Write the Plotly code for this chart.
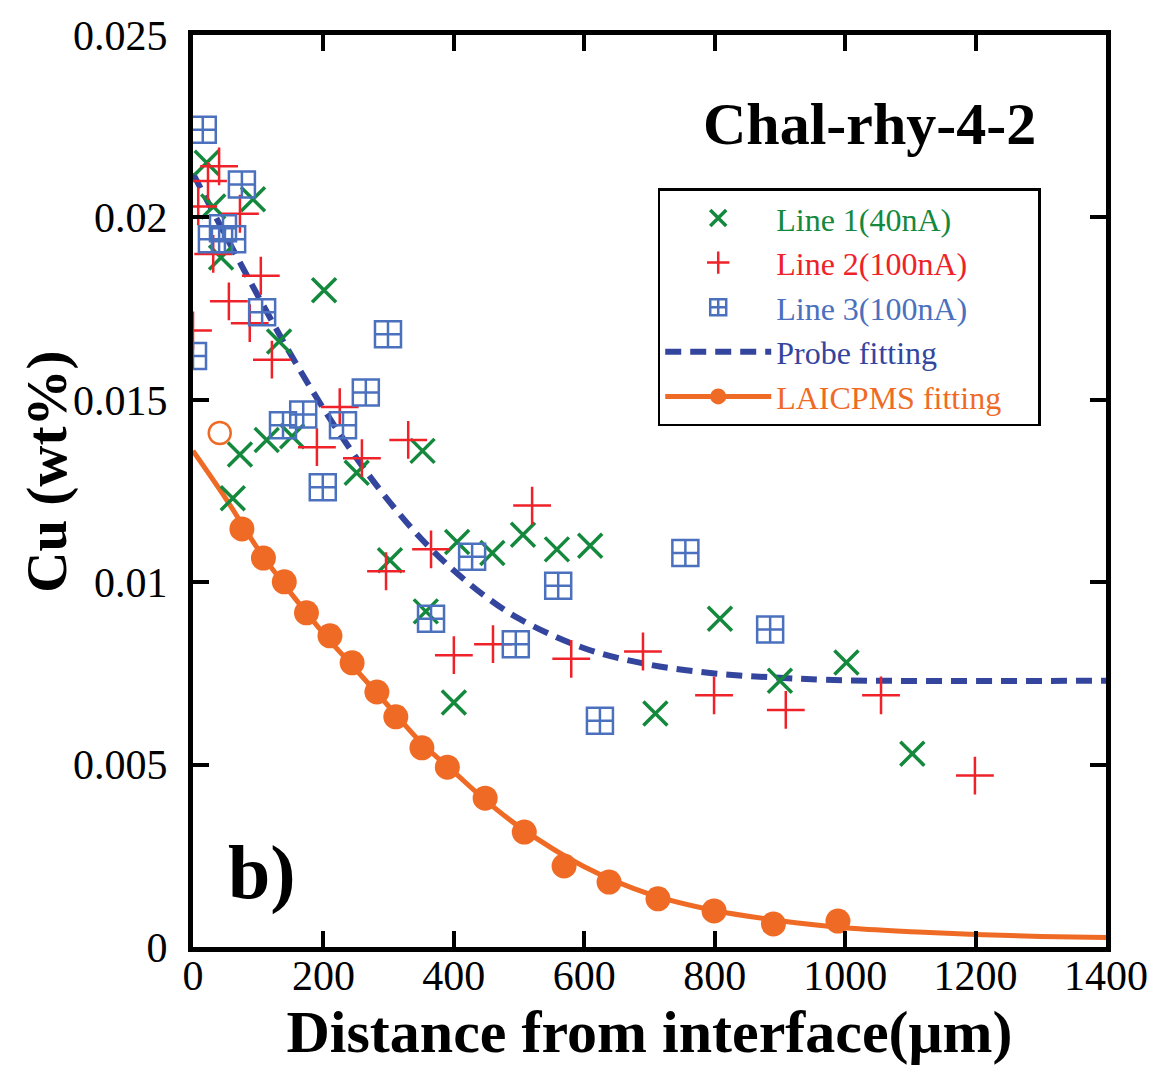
import plotly.graph_objects as go

# ---- Data ----
line1_x = [21, 31, 43, 61, 72, 92, 113, 132, 152, 201, 251, 302, 352, 357, 400, 405,
           459, 506, 558, 609, 709, 808, 900, 1002, 1103]
line1_y = [0.0215, 0.0203, 0.0189, 0.0123, 0.0135, 0.0205, 0.0139, 0.0166, 0.0140, 0.0180,
           0.0130, 0.0106, 0.0136, 0.0092, 0.0067, 0.0111, 0.0108, 0.0113, 0.0109, 0.0110,
           0.0064, 0.0090, 0.0073, 0.0078, 0.0053]

line2_x = [0, 8, 23, 31, 40, 55, 72, 87, 104, 121, 190, 225, 259, 296, 330, 365, 400,
           460, 520, 580, 690, 799, 909, 1055, 1199]
line2_y = [0.0169, 0.0203, 0.0210, 0.0190, 0.0214, 0.0177, 0.0201, 0.0171, 0.0184, 0.0161,
           0.0137, 0.0148, 0.0134, 0.0103, 0.0139, 0.0109, 0.0080, 0.0083, 0.0121, 0.0079,
           0.0081, 0.0069, 0.0065, 0.0069, 0.0047]

line3_x = [0, 15, 29, 46, 60, 75, 106, 138, 169, 199, 230, 265, 299, 365, 428, 495,
           560, 624, 755, 885]
line3_y = [0.0162, 0.0224, 0.0194, 0.0197, 0.0194, 0.0209, 0.0174, 0.0143, 0.0146, 0.0126,
           0.0143, 0.0152, 0.0168, 0.0090, 0.0107, 0.0083, 0.0099, 0.0062, 0.0108, 0.0087]

probe_fit_x = [0, 50, 100, 150, 200, 250, 300, 350, 400, 450, 500, 600, 700, 800, 900, 1000, 1400]
probe_fit_y = [0.0212, 0.0195, 0.01784, 0.01624, 0.01476, 0.01342, 0.01223, 0.01119, 0.01032,
               0.00959, 0.00900, 0.00819, 0.00774, 0.00750, 0.00738, 0.00731, 0.00730]

la_x = [75, 108, 140, 174, 210, 244, 282, 311, 351, 390, 448, 508, 569, 638, 713, 799, 890, 989]
la_y = [0.01146, 0.01066, 0.01001, 0.00916, 0.00853, 0.00779, 0.00699, 0.00631, 0.00546,
        0.00493, 0.00408, 0.00315, 0.00222, 0.00178, 0.00132, 0.00099, 0.00063, 0.00071]

la_open_x = [41]
la_open_y = [0.01409]

la_fit_x = [0, 50, 100, 150, 200, 250, 300, 350, 400, 450, 500, 600, 700, 800, 900, 1000,
            1100, 1200, 1300, 1400]
la_fit_y = [0.0136, 0.0123, 0.0109, 0.0097, 0.0086, 0.0076, 0.0066, 0.0056, 0.0048, 0.0040,
            0.0033, 0.0022, 0.00145, 0.00100, 0.00072, 0.00053, 0.00042, 0.00034, 0.00029, 0.00026]

x_ticks = [0, 200, 400, 600, 800, 1000, 1200, 1400]
y_ticks = [0, 0.005, 0.01, 0.015, 0.02, 0.025]
y_tick_text = ["0", "0.005", "0.01", "0.015", "0.02", "0.025"]

GREEN = "#14893d"
RED = "#ee2228"
BLUE = "#4a70be"
DBLUE = "#34459e"
ORANGE = "#ef6b25"
FONT = "Liberation Serif"

fig = go.Figure()

# fits
fig.add_trace(go.Scatter(x=probe_fit_x, y=probe_fit_y, mode="lines", line_shape="spline",
                         line=dict(color=DBLUE, width=6, dash="16px,9px"), showlegend=False))
fig.add_trace(go.Scatter(x=la_fit_x, y=la_fit_y, mode="lines", line_shape="spline",
                         line=dict(color=ORANGE, width=5), showlegend=False))
fig.add_trace(go.Scatter(x=la_x, y=la_y, mode="markers",
                         marker=dict(symbol="circle", size=25, color=ORANGE), showlegend=False))
fig.add_trace(go.Scatter(x=la_open_x, y=la_open_y, mode="markers",
                         marker=dict(symbol="circle-open", size=22, color=ORANGE,
                                     line=dict(width=2.5, color=ORANGE)), showlegend=False))

# data
fig.add_trace(go.Scatter(x=line1_x, y=line1_y, mode="markers",
                         name="<span style='color:%s'>Line 1(40nA)</span>" % GREEN,
                         marker=dict(symbol="x-thin", size=24, color=GREEN,
                                     line=dict(width=3.5, color=GREEN))))
fig.add_trace(go.Scatter(x=line2_x, y=line2_y, mode="markers",
                         name="<span style='color:%s'>Line 2(100nA)</span>" % RED,
                         marker=dict(symbol="cross-thin", size=27, color=RED,
                                     line=dict(width=2.5, color=RED))))
fig.add_trace(go.Scatter(x=line3_x, y=line3_y, mode="markers",
                         name="<span style='color:%s'>Line 3(100nA)</span>" % BLUE,
                         marker=dict(symbol="square-cross-open", size=26, color=BLUE,
                                     line=dict(width=2.5, color=BLUE))))
# legend-only entries for the fits
fig.add_trace(go.Scatter(x=[None], y=[None], mode="lines",
                         name="<span style='color:%s'>Probe fitting</span>" % DBLUE,
                         line=dict(color=DBLUE, width=6, dash="16px,9px")))
fig.add_trace(go.Scatter(x=[None], y=[None], mode="lines+markers",
                         name="<span style='color:%s'>LAICPMS fitting</span>&nbsp;&nbsp;&nbsp;&nbsp;" % ORANGE,
                         line=dict(color=ORANGE, width=5),
                         marker=dict(symbol="circle", size=25, color=ORANGE)))

axis_common = dict(showgrid=False, zeroline=False, showline=True, linecolor="black",
                   linewidth=5, mirror="ticks", ticks="inside", ticklen=16, tickwidth=4,
                   tickcolor="black", automargin=False,
                   tickfont=dict(family=FONT, size=42, color="black"))

fig.update_xaxes(range=[0, 1400], tickvals=x_ticks, **axis_common,
                 ticklabelstandoff=-12,
                 title=dict(text="<b>Distance from interface(μm)</b>",
                            font=dict(family=FONT, size=60, color="black"), standoff=0))
fig.update_yaxes(range=[0, 0.025], tickvals=y_ticks, ticktext=y_tick_text, **axis_common,
                 ticklabelstandoff=12)

# y-axis title
fig.add_annotation(x=-0.16, y=0.521, xref="paper", yref="paper", xanchor="center",
                   yanchor="middle", textangle=-90, text="<b>Cu (wt%)</b>", showarrow=False,
                   font=dict(family=FONT, size=57, color="black"))
fig.add_annotation(x=0.925, y=0.902, xref="paper", yref="paper", xanchor="right", yanchor="middle",
                   text="<b>Chal-rhy-4-2</b>", showarrow=False,
                   font=dict(family=FONT, size=60, color="black"))
fig.add_annotation(x=0.036, y=0.082, xref="paper", yref="paper", xanchor="left", yanchor="middle",
                   text="<b>b)</b>", showarrow=False,
                   font=dict(family=FONT, size=76, color="black"))

# page body has an 8px default margin, so the margins are offset to keep the frame in place
fig.update_layout(
    width=1165, height=1065,
    margin=dict(l=185, r=67, t=27, b=126),
    paper_bgcolor="white", plot_bgcolor="white",
    legend=dict(x=0.509, y=0.832, xanchor="left", yanchor="top",
                bgcolor="white", bordercolor="black", borderwidth=2.5,
                font=dict(family=FONT, size=32, color="black"),
                itemwidth=106, tracegroupgap=0),
)

fig.write_html("out.html")
